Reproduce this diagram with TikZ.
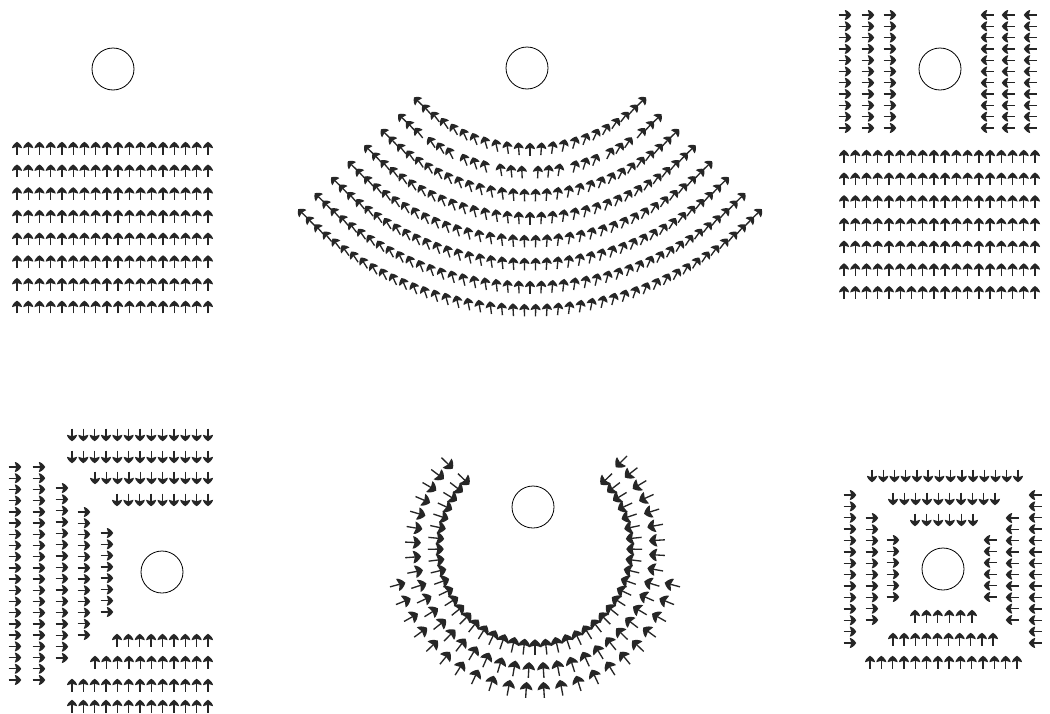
\documentclass[tikz,border=0pt]{standalone}
\begin{document}
\begin{tikzpicture}[x=0.75pt,y=-0.75pt,
  teacher/.style={draw,circle,minimum size=31.5pt,inner sep=0pt,line width=0.6pt},
  arw/.pic={
    \draw[line width=1pt,black!85] (-6.5,0) -- (1.5,0);
    \fill[black!85] (6.2,0) .. controls (4.5,-3) and (1.5,-5) .. (-0.2,-5)
      -- (1.2,0) -- (-0.2,5) .. controls (1.5,5) and (4.5,3) .. (6.2,0) -- cycle;
  }]
\useasboundingbox[fill=white] (0,0) rectangle (1050,714);
\newcommand{\ArRow}[5]{% x0 x1 y n angle
  \foreach \i in {1,...,#4} {\pic[rotate=#5] at ({#1+(\i-1)*(#2-#1)/(#4-1)},#3) {arw};}}
\newcommand{\ArCol}[5]{% x y0 y1 n angle
  \foreach \i in {1,...,#4} {\pic[rotate=#5] at (#1,{#2+(\i-1)*(#3-#2)/(#4-1)}) {arw};}}

% ---------- panel 1: rows ----------
\node[teacher] (t1) at (113,69) {};
\foreach \j in {0,...,7} {\ArRow{17}{208}{148+\j*22.7}{18}{90}}

% ---------- panel 2: arcs ----------
\node[teacher] (t2) at (527,68) {};
\foreach \k in {1,3,4,5,6,7,8} {
  \pgfmathsetmacro{\R}{155+(\k-1)*23}
  \pgfmathtruncatemacro{\n}{round(\R*1.6057/11.2)}
  \foreach \i in {0,...,\n} {
    \pgfmathsetmacro{\b}{-46+92*\i/\n}
    \pgfmathsetmacro{\d}{90+\b}
    \pic[rotate=\d] at ({530-\R*sin(\b)},{-6+\R*cos(\b)}) {arw};
  }
}
\foreach \g in {0,...,7} {
  \foreach \m in {0,1,2} {
    \pgfmathsetmacro{\b}{(\g*37.4+\m*10.7-141.5)/178*57.2958}
    \pgfmathsetmacro{\d}{90+\b}
    \pic[rotate=\d] at ({530-178*sin(\b)},{-6+178*cos(\b)}) {arw};
  }
}

% ---------- panel 3: side columns + rows ----------
\node[teacher] (t3) at (940,69) {};
\foreach \x in {845,868,890} {\ArCol{\x}{15}{128}{11}{0}}
\foreach \x in {987,1008,1030} {\ArCol{\x}{15}{128}{11}{180}}
\foreach \j in {0,...,6} {\ArRow{844}{1035}{156+\j*22.7}{18}{90}}

% ---------- panel 4: L-shape ----------
\node[teacher] (t4) at (162,572) {};
\ArRow{72}{208}{435}{13}{-90}
\ArRow{72}{208}{457}{13}{-90}
\ArRow{95}{208}{478}{11}{-90}
\ArRow{117}{208}{500}{9}{-90}
\ArRow{117}{208}{640}{9}{90}
\ArRow{95}{208}{662}{11}{90}
\ArRow{72}{208}{685}{13}{90}
\ArRow{72}{208}{706}{13}{90}
\ArCol{15}{467}{680}{20}{0}
\ArCol{39}{467}{680}{20}{0}
\ArCol{62}{488}{658}{16}{0}
\ArCol{84}{512}{635}{12}{0}
\ArCol{107}{533}{612}{8}{0}

% ---------- panel 5: horseshoe ----------
\node[teacher] (t5) at (533,507) {};
\foreach \r/\a/\e/\n in {99/136/404/42,122/136/405/39,142/195/345/21} {
  \foreach \i in {0,...,\n} {
    \pgfmathsetmacro{\p}{\a+(\e-\a)*\i/\n}
    \pgfmathsetmacro{\d}{\p+180}
    \pic[rotate=\d,scale=1.25] at ({535+\r*cos(\p)},{548-\r*sin(\p)}) {arw};
  }
}

% ---------- panel 6: square ----------
\node[teacher] (t6) at (943,569) {};
\ArRow{872}{1018}{476}{14}{-90}
\ArRow{893}{995}{499}{10}{-90}
\ArRow{915}{973}{520}{6}{-90}
\ArRow{915}{972}{616}{6}{90}
\ArRow{893}{993}{639}{10}{90}
\ArRow{870}{1017}{662}{14}{90}
\ArCol{850}{495}{643}{14}{0}
\ArCol{872}{518}{620}{10}{0}
\ArCol{893}{540}{597}{6}{0}
\ArCol{1035}{495}{643}{14}{180}
\ArCol{1012}{518}{620}{10}{180}
\ArCol{990}{540}{597}{6}{180}
\end{tikzpicture}
\end{document}
